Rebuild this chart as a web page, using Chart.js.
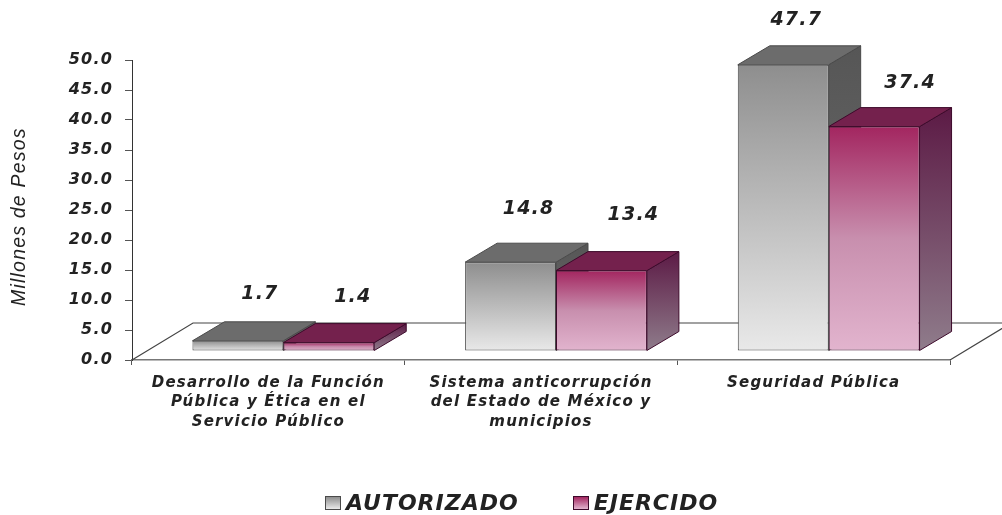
<!DOCTYPE html>
<html>
<head>
<meta charset="utf-8">
<title>Millones de Pesos</title>
<script src="https://cdn.jsdelivr.net/npm/chart.js@4/dist/chart.umd.min.js"></script>
<style>
    body { margin: 0; background: #fff; }
    #wrap { position: relative; width: 1002px; height: 515px; overflow: hidden; filter: blur(0.5px); }
    #legend { position: absolute; left: 325px; top: 490px; display: flex; align-items: center; font: italic bold 22px "DejaVu Sans"; letter-spacing: 1px; color: #222; }
    #legend .item { display: flex; align-items: center; margin-right: 54px; }
    #legend .box { width: 14px; height: 12px; margin-right: 5px; border: 1px solid #555; }
</style>
</head>
<body>
<div id="wrap">
    <canvas id="chart" width="1002" height="515"></canvas>
    <div id="legend"></div>
</div>
<script>
const categories = [
    ['Desarrollo de la Función', 'Pública y Ética en el', 'Servicio Público'],
    ['Sistema anticorrupción', 'del Estado de México y', 'municipios'],
    'Seguridad Pública'
];
const autorizado = [1.7, 14.8, 47.7];
const ejercido = [1.4, 13.4, 37.4];
const seriesNames = ['AUTORIZADO', 'EJERCIDO'];
const yTicks = { min: 0, max: 50, step: 5 };

// value labels sit by hand in the original, so nudge them per bar
const labelNudgeX = [[22, 18, 13], [24, 32, 36]];
const labelNudgeY = [[-47, -53, -45], [-46, -56, -44]];

// bars stand in the middle of the floor, not on its front edge
const SHIFT_X = 15, SHIFT_Y = -9;
const DEPTH_X = 32, DEPTH_Y = -19;
const FLOOR_X = 61, FLOOR_Y = -37;

const skins = [
    { front: ['#8e8e8e', '#e9e9e9'], top: '#6c6c6c', side: ['#565656', '#6e6e6e'], line: '#4a4a4a' },
    { front: ['#a32660', '#c88fae', '#e2b4ce'], top: '#74214d', side: ['#5c1a45', '#8f7c8b'], line: '#3d0a2b' }
];

function frontGradient(ctx, i) {
    const y = ctx.chart.scales.y;
    const stops = skins[i].front;
    if (!y || ctx.raw === undefined) return stops[0];
    const y0 = y.getPixelForValue(ctx.raw), y1 = y.getPixelForValue(0);
    if (!isFinite(y0) || !isFinite(y1)) return stops[0]; // scale not laid out yet
    const g = ctx.chart.ctx.createLinearGradient(0, y0, 0, y1);
    stops.forEach((c, n) => g.addColorStop(n / (stops.length - 1), c));
    return g;
}

function poly(c, pts, fill, line) {
    c.beginPath();
    pts.forEach((p, n) => n ? c.lineTo(p[0], p[1]) : c.moveTo(p[0], p[1]));
    c.closePath();
    c.fillStyle = fill;
    c.fill();
    c.strokeStyle = line;
    c.lineWidth = 1;
    c.stroke();
}

const box3d = {
    id: 'box3d',
    beforeDraw(chart) {
        chart.ctx.letterSpacing = '1.2px'; // the original text is stretched wide
    },
    beforeDatasetsDraw(chart) {
        const c = chart.ctx, a = chart.chartArea;
        // floor
        c.save();
        c.strokeStyle = '#444';
        c.lineWidth = 1.2;
        c.beginPath();
        c.moveTo(a.left, a.bottom);
        c.lineTo(a.left + FLOOR_X, a.bottom + FLOOR_Y);
        c.lineTo(a.right + FLOOR_X, a.bottom + FLOOR_Y);
        c.lineTo(a.right, a.bottom);
        c.stroke();
        c.restore();

        c.save();
        c.translate(SHIFT_X, SHIFT_Y);
        // side and top faces first, the library paints the fronts over them
        chart.data.datasets.forEach((ds, i) => {
            chart.getDatasetMeta(i).data.forEach(bar => {
                const p = bar.getProps(['x', 'y', 'base', 'width'], true);
                const r = p.x + p.width / 2, l = p.x - p.width / 2;
                const sg = c.createLinearGradient(0, p.y + DEPTH_Y, 0, p.base);
                sg.addColorStop(0, skins[i].side[0]);
                sg.addColorStop(1, skins[i].side[1]);
                poly(c, [[r, p.y], [r + DEPTH_X, p.y + DEPTH_Y], [r + DEPTH_X, p.base + DEPTH_Y], [r, p.base]], sg, skins[i].line);
                poly(c, [[l, p.y], [l + DEPTH_X, p.y + DEPTH_Y], [r + DEPTH_X, p.y + DEPTH_Y], [r, p.y]], skins[i].top, skins[i].line);
            });
        });
    },
    afterDatasetsDraw(chart) {
        const c = chart.ctx;
        c.restore();
        c.save();
        c.font = 'italic bold 19px "DejaVu Sans"';
        c.fillStyle = '#222';
        c.textAlign = 'center';
        c.textBaseline = 'middle';
        chart.data.datasets.forEach((ds, i) => {
            chart.getDatasetMeta(i).data.forEach((bar, k) => {
                const p = bar.getProps(['x', 'y'], true);
                c.fillText(ds.data[k].toFixed(1), p.x + SHIFT_X + labelNudgeX[i][k], p.y + SHIFT_Y + labelNudgeY[i][k]);
            });
        });
        c.restore();
    }
};

const chart = new Chart(document.getElementById('chart'), {
    type: 'bar',
    plugins: [box3d],
    data: {
        labels: categories,
        datasets: [autorizado, ejercido].map((values, i) => ({
            label: seriesNames[i],
            data: values,
            backgroundColor: ctx => frontGradient(ctx, i),
            borderColor: skins[i].line,
            borderWidth: 1,
            borderSkipped: false,
            categoryPercentage: 2 / 3,
            barPercentage: 1,
            clip: false
        }))
    },
    options: {
        responsive: false,
        animation: false,
        layout: { padding: { top: 60, right: 52 } },
        plugins: { legend: { display: false }, tooltip: { enabled: false } },
        scales: {
            x: {
                afterFit: s => { s.height = 155; },
                border: { color: '#777', width: 1.5 },
                grid: { drawOnChartArea: false, tickLength: 5, color: '#555', offset: true },
                ticks: {
                    autoSkip: false, maxRotation: 0, padding: 8,
                    color: '#222', font: { family: 'DejaVu Sans', size: 15, style: 'italic', weight: 'bold', lineHeight: 1.3 }
                }
            },
            y: {
                min: yTicks.min,
                max: yTicks.max,
                afterFit: s => { s.width = 132; },
                border: { color: '#333', width: 1 },
                grid: { drawOnChartArea: false, tickLength: 7, color: '#555' },
                ticks: {
                    stepSize: yTicks.step, padding: 12,
                    color: '#222', font: { family: 'DejaVu Sans', size: 16, style: 'italic', weight: 'bold' },
                    callback: v => v.toFixed(1)
                },
                title: {
                    // trailing spaces push the title a little below the axis middle
                    display: true, text: 'Millones de Pesos  ', padding: { top: 8, bottom: 0 },
                    color: '#222', font: { family: 'Liberation Sans', size: 19.5, style: 'italic' }
                }
            }
        }
    }
});

// legend in html so the swatch sits close to the text like the original
seriesNames.forEach((name, i) => {
    const stops = skins[i].front;
    document.getElementById('legend').insertAdjacentHTML('beforeend',
        '<div class="item"><span class="box" style="border-color:' + skins[i].line +
        ';background:linear-gradient(' + stops[0] + ',' + stops[stops.length - 1] + ')"></span>' + name + '</div>');
});
</script>
</body>
</html>
